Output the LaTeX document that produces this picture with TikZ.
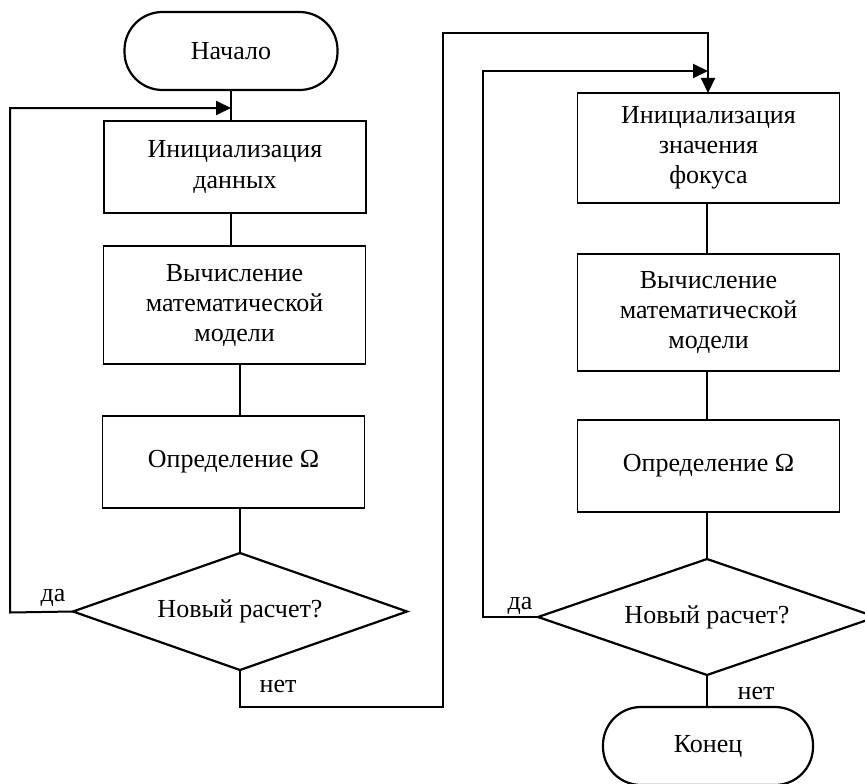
\documentclass[tikz,border=0pt]{standalone}
\usepackage{fontspec}
\setmainfont{Liberation Serif}
\usetikzlibrary{arrows.meta,shapes.geometric,calc}
\begin{document}
\begin{tikzpicture}[x=1pt,y=-1pt,
  every node/.style={font=\fontsize{26}{30}\selectfont, inner sep=0pt},
  procbox/.style={draw, line width=1.4pt, rectangle, minimum width=262pt, align=center},
  termbox/.style={draw, line width=2.2pt, rectangle, rounded corners=38pt, minimum width=213pt, minimum height=78pt},
  thinline/.style={line width=1.5pt},
  loopline/.style={line width=2pt},
  decline/.style={line width=2.2pt, line join=miter},
  arr/.style={-{Triangle[length=15pt,width=14pt]}},
  lbl/.style={font=\fontsize{26}{30}\selectfont}
]
\useasboundingbox (0,0) rectangle (865,784);
\fill[white] (0,0) rectangle (865,784);

% left column
\node[termbox] (start) at (231,51) {Начало};
\node[procbox, minimum height=92pt] (b1) at (235,167) {Инициализация\\данных};
\node[procbox, minimum height=118pt] (b2) at (234.5,305) {Вычисление\\математической\\модели};
\node[procbox, minimum height=92pt] (b3) at (233.5,462) {Определение Ω};
\coordinate (d1c) at (240,611.5);
\coordinate (d1n) at (240,553);
\coordinate (d1s) at (240,670);
\coordinate (d1w) at (73,611.5);
\coordinate (d1e) at (407,611.5);
\draw[decline] (d1n) -- (d1e) -- (d1s) -- (d1w) -- cycle;
\node (d1) at (d1c) {Новый расчет?};

% right column
\node[procbox, minimum height=110pt] (b4) at (708.5,148) {Инициализация\\значения\\фокуса};
\node[procbox, minimum height=117pt] (b5) at (708.5,312.5) {Вычисление\\математической\\модели};
\node[procbox, minimum height=92pt] (b6) at (708.5,466) {Определение Ω};
\coordinate (d2c) at (707,617);
\coordinate (d2n) at (707,559);
\coordinate (d2s) at (707,675);
\coordinate (d2w) at (538,617);
\coordinate (d2e) at (876,617);
\draw[decline] (d2n) -- (d2e) -- (d2s) -- (d2w) -- cycle;
\node (d2) at (d2c) {Новый расчет?};
\node[termbox, minimum width=210pt] (end) at (708,746) {Конец};

% left connectors
\coordinate (j1) at (231,108);
\draw[thinline] (start.south) -- (start.south |- b1.north);
\draw[thinline] (b1.south -| start.south) -- (start.south |- b2.north);
\draw[thinline] (b2.south -| d1n) -- (d1n |- b3.north);
\draw[thinline] (b3.south -| d1n) -- (d1n);
\draw[loopline, arr] (d1w) -- (10,612.5) -- (10,108) -- (j1);
\node[lbl] (da1) at (53,598) {да};

% no branch
\coordinate (j3) at (708,93);
\draw[loopline, arr] (d1s) -- (240,707) -- (443,707) -- (443,33) -- (708,33) -- (j3);
\node[lbl] (net1) at (278,686) {нет};

% right connectors
\coordinate (j2) at (708,71);
\draw[thinline] (b4.south -| d2n) -- (d2n |- b5.north);
\draw[thinline] (b5.south -| d2n) -- (d2n |- b6.north);
\draw[thinline] (b6.south -| d2n) -- (d2n);
\draw[loopline, arr] (d2w) -- (483,617) -- (483,71) -- (j2);
\node[lbl] (da2) at (520,606) {да};
\draw[thinline] (d2s) -- (d2s |- end.north);
\node[lbl] (net2) at (756,693) {нет};
\end{tikzpicture}
\end{document}
